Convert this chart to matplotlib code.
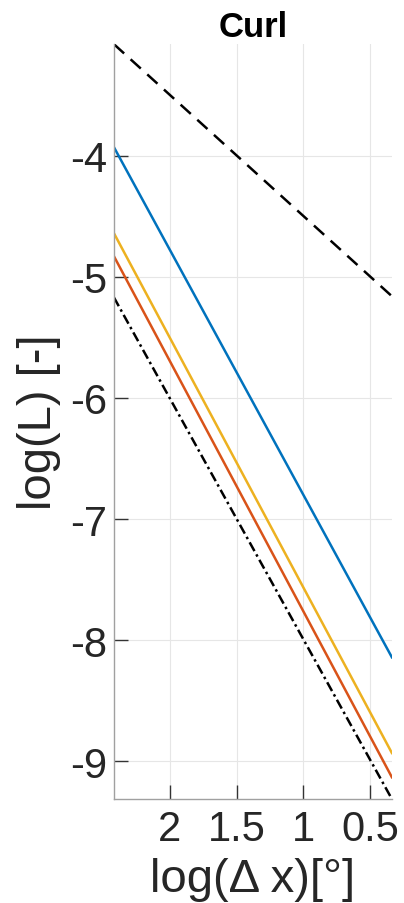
import matplotlib
matplotlib.use("Agg")
import matplotlib.pyplot as plt

# Data (log(dx) endpoints, log(L) values)
x_vals = [2.42, 0.335]
blue_vals = [-3.93, -8.14]
yellow_vals = [-4.64, -8.93]
orange_vals = [-4.83, -9.13]
ref2_vals = [-5.17, -9.31]   # dash-dot reference, 2nd order
ref1_vals = [-3.08, -5.16]   # dashed reference, 1st order

xticks = [2, 1.5, 1, 0.5]
yticks = [-9, -8, -7, -6, -5, -4]

plt.rcParams['font.family'] = ['Liberation Sans', 'DejaVu Sans']

fig = plt.figure(figsize=(4.04, 9.04), dpi=100)
ax = fig.add_axes([0.282, 0.115, 0.688, 0.835])

ax.plot(x_vals, ref1_vals, color='black', linestyle=(0, (5.5, 3.5)), lw=1.8)
ax.plot(x_vals, blue_vals, color='#0072BD', lw=1.8)
ax.plot(x_vals, yellow_vals, color='#EDB120', lw=1.8)
ax.plot(x_vals, orange_vals, color='#D95319', lw=1.8)
ax.plot(x_vals, ref2_vals, color='black', linestyle=(0, (4, 1.5, 1, 1.5)), lw=1.8)

ax.set_xlim(2.42, 0.335)
ax.set_ylim(-9.31, -3.08)
ax.set_xticks(xticks)
ax.set_xticklabels(['2', '1.5', '1', '0.5'])
ax.set_yticks(yticks)
ax.set_yticklabels([str(t) for t in yticks])

ax.grid(True, color='#e6e6e6', lw=0.8)
ax.set_axisbelow(True)
for s in ['top', 'right']:
    ax.spines[s].set_visible(False)
for s in ['left', 'bottom']:
    ax.spines[s].set_color('#a0a0a0')
    ax.spines[s].set_linewidth(1.0)

ax.tick_params(direction='in', length=10, width=1, color='#333333',
               labelsize=30, labelcolor='#262626')
ax.tick_params(axis='x', pad=7)
ax.tick_params(axis='y', pad=5)

ax.set_xlabel('log(Δ x)[°]', fontsize=34, color='#262626', labelpad=6)
ax.set_ylabel('log(L) [-]', fontsize=34, color='#262626')
ax.yaxis.set_label_coords(-0.19, 0.5)
ax.set_title('Curl', fontsize=25, fontweight='bold', pad=6)

fig.savefig('out.png', dpi=100)
